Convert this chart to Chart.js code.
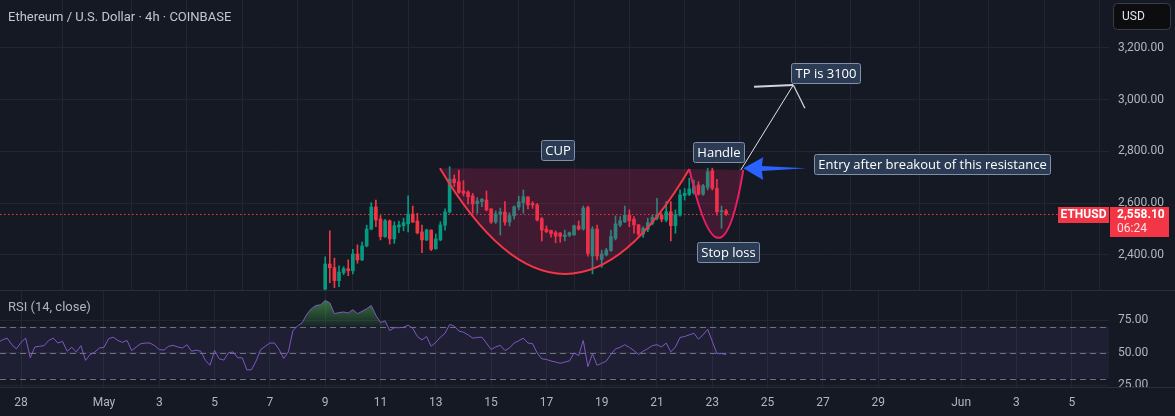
<!DOCTYPE html>
<html><head><meta charset="utf-8">
<script src="https://cdn.jsdelivr.net/npm/chart.js@4.4.1/dist/chart.umd.min.js"></script>
<style>
html,body{margin:0;padding:0;background:#151924;width:1175px;height:416px;overflow:hidden;}
#wrap{position:relative;width:1175px;height:416px;}
canvas{position:absolute;left:0;}
#c1{top:0;} #c2{top:290px;}
</style></head><body>
<div id="wrap"><canvas id="c1" width="1175" height="290"></canvas><canvas id="c2" width="1175" height="126"></canvas></div>
<script>
// ---------- DATA ----------
// time unit: days since May 1 00:00
const candleStartDay = 8;          // May 9 00:00
const stepDays = 4 / 24;           // 4h candles
const opens  = [2268,2365,2351,2301,2332,2347,2339,2404,2381,2435,2500,2585,2539,2471,2532,2462,2508,2513,2520,2558,2531,2489,2458,2496,2424,2458,2515,2566,2693,2682,2647,2643,2628,2598,2606,2612,2578,2527,2557,2566,2527,2551,2585,2602,2624,2599,2593,2540,2500,2495,2486,2485,2471,2476,2477,2512,2500,2583,2396,2500,2383,2400,2417,2464,2516,2528,2554,2538,2516,2481,2499,2522,2542,2554,2535,2567,2513,2554,2629,2634,2640,2670,2635,2661,2725,2657,2567,2570];
const highs  = [2393,2493,2388,2358,2355,2381,2422,2439,2450,2515,2602,2612,2552,2538,2535,2528,2531,2542,2628,2589,2561,2515,2500,2497,2481,2528,2578,2741,2709,2728,2687,2648,2638,2621,2619,2647,2578,2570,2581,2606,2563,2590,2627,2651,2625,2606,2599,2545,2512,2496,2493,2486,2496,2489,2515,2531,2589,2589,2509,2515,2419,2426,2496,2551,2548,2589,2574,2548,2518,2509,2542,2554,2619,2561,2606,2606,2574,2651,2657,2696,2689,2683,2673,2735,2735,2692,2589,2576];
const lows   = [2262,2293,2274,2278,2324,2320,2327,2368,2378,2431,2497,2509,2458,2468,2442,2445,2486,2493,2489,2525,2481,2409,2455,2417,2422,2455,2496,2561,2664,2638,2628,2596,2561,2561,2586,2570,2522,2522,2477,2515,2512,2538,2574,2561,2578,2580,2531,2454,2486,2469,2447,2449,2454,2471,2476,2496,2496,2395,2327,2381,2352,2396,2414,2458,2509,2525,2509,2484,2473,2468,2490,2516,2535,2528,2528,2454,2484,2550,2612,2629,2635,2631,2630,2651,2651,2554,2503,2553];
const closes = [2365,2351,2301,2334,2347,2339,2404,2381,2435,2500,2585,2535,2471,2532,2462,2513,2516,2525,2558,2527,2486,2458,2496,2422,2462,2516,2566,2693,2679,2642,2638,2625,2597,2608,2615,2574,2527,2558,2566,2527,2552,2586,2605,2625,2593,2593,2535,2496,2490,2482,2473,2472,2477,2486,2513,2500,2581,2406,2500,2396,2404,2419,2471,2520,2532,2554,2532,2516,2481,2503,2525,2545,2556,2538,2567,2513,2554,2632,2638,2655,2666,2634,2667,2721,2657,2567,2571,2558.1];
// RSI(14) on the same 4h grid; last value aligned with last candle
const rsiValues = [57.8,59.8,61.1,56.0,52.8,57.8,61.1,46.0,54.3,54.8,55.3,59.3,61.1,57.3,58.6,51.0,54.0,50.5,55.3,44.0,48.5,50.3,53.5,54.0,60.6,61.8,59.3,57.8,59.3,51.5,54.3,56.8,57.3,57.3,55.3,52.3,51.8,54.8,55.5,54.3,53.5,56.0,51.0,51.8,51.0,44.0,40.2,51.5,45.2,44.2,49.7,50.5,46.0,46.0,36.7,36.7,43.5,52.3,54.8,57.3,57.3,52.3,45.5,50.5,66.9,70.4,72.9,79.4,83.7,86.2,86.7,90.0,88.2,79.9,80.7,81.2,80.4,83.0,79.9,81.7,83.7,86.2,78.7,73.1,74.4,66.9,69.1,69.1,
  69.4,71.1,68.6,62.3,59.8,62.3,54.8,57.8,61.8,64.8,71.6,70.4,66.6,65.6,63.6,61.1,61.6,61.8,57.3,52.3,54.3,55.5,51.5,53.5,57.3,59.1,61.1,57.3,56.8,49.7,45.2,44.7,43.5,42.7,41.7,42.7,43.5,49.7,47.7,59.3,39.2,49.0,40.2,41.7,43.5,48.5,52.8,54.0,56.0,54.0,51.5,48.5,51.0,53.0,55.3,56.0,54.3,57.3,50.5,54.3,61.6,62.3,63.6,64.8,60.3,63.6,67.9,58.6,49.2,49.2,48.5];
const tickDays   = [-3,0,2,4,6,8,10,12,14,16,18,20,22,24,26,28,31,33,35];
const tickLabels = ['28','May','3','5','7','9','11','13','15','17','19','21','23','25','27','29','Jun','3','5'];
const priceTicks = [2400,2600,2800,3000,3200];
const rsiTicks   = [25,50,75];
const rsiLevels  = [70,50,30];
const lastPrice  = 2558.10;
const countdown  = '06:24';
const symbol     = 'ETHUSD';
const titleText  = 'Ethereum / U.S. Dollar · 4h · COINBASE';
const rsiTitle   = 'RSI (14, close)';

// ---------- annotations (data coordinates: [day, price]) ----------
const cupPts    = [[12.15,2735],[16.67,2327],[21.17,2732]];
const handlePts = [[21.17,2732],[22.22,2466],[23.12,2728]];
const entryArrow = [[23.12,2734.6],[23.84,2777],[23.79,2743.4],[25.39,2734.6],[23.79,2724.1],[23.84,2689.4]];
const tpLine  = [[23.03,2728],[24.93,3056]];
const tpHeadA = [23.51,3049.5];
const tpHeadB = [25.35,2966];
const notes = [
  {t:16.40,p:2807,text:'CUP'},
  {t:22.21,p:2799,text:'Handle'},
  {t:22.57,p:2410,text:'Stop loss'},
  {t:26.08,p:3103,text:'TP is 3100'},
  {t:29.93,p:2752,text:'Entry after breakout of this resistance'}
];

// ---------- view ranges ----------
const xMin = -3.761, xMax = 36.347;
const priceMin = 2264.8, priceMax = 3384.1;
const rsiMin = 23.5, rsiMax = 98.1;

const BG='#151924', GRID='#222632', TXT='#b2b5be', UP='#089981', DOWN='#f23645';
const FONT='Roboto', NOTEFONT='"Open Sans"';
const fmt = v => v.toLocaleString('en-US',{minimumFractionDigits:2,maximumFractionDigits:2});

const candleTimes  = opens.map((_,i)=> candleStartDay + i*stepDays);
const candleColors = opens.map((o,i)=> closes[i] >= o ? UP : DOWN);
const rsiStart = candleTimes[candleTimes.length-1] - (rsiValues.length-1)*stepDays;

function xAxis(show){ return {
  type:'linear', min:xMin, max:xMax, offset:false,
  afterBuildTicks: s=>{ s.ticks = tickDays.map(v=>({value:v})); },
  afterFit: s=>{ s.height = show?29:0; s.paddingLeft=0; s.paddingRight=0; },
  grid:{color:GRID, drawTicks:false, lineWidth:1},
  border:{display:false},
  ticks:{display:show, autoSkip:false, maxRotation:0, minRotation:0, color:TXT, padding:9,
         font:{family:FONT,size:12}, callback:(v,i)=>tickLabels[i]}
};}
function yAxis(min,max,ticks){ return {
  position:'right', min:min, max:max,
  afterBuildTicks: s=>{ s.ticks = ticks.map(v=>({value:v})); },
  afterFit: s=>{ s.width=66; s.paddingTop=0; s.paddingBottom=0; },
  grid:{color:GRID, drawTicks:false}, border:{display:false},
  ticks:{color:TXT, padding:9, font:{family:FONT,size:12}, callback:v=>fmt(v)}
};}

function P(chart,pt){ return [chart.scales.x.getPixelForValue(pt[0]), chart.scales.y.getPixelForValue(pt[1])]; }

function drawBowl(ctx, chart, pts, stroke){
  const [x0,y0]=P(chart,pts[0]), [xl,yl]=P(chart,pts[1]), [x2,y2]=P(chart,pts[2]);
  const cx = 2*xl-(x0+x2)/2, cy = 2*yl-(y0+y2)/2;
  ctx.beginPath(); ctx.moveTo(x0,y0); ctx.quadraticCurveTo(cx,cy,x2,y2); ctx.closePath();
  ctx.fillStyle='rgba(233,30,99,0.2)'; ctx.fill();
  ctx.beginPath(); ctx.moveTo(x0,y0); ctx.quadraticCurveTo(cx,cy,x2,y2);
  ctx.strokeStyle=stroke; ctx.lineWidth=2; ctx.stroke();
}
function rr(ctx,x,y,w,h,r){ ctx.beginPath(); ctx.moveTo(x+r,y); ctx.lineTo(x+w-r,y); ctx.quadraticCurveTo(x+w,y,x+w,y+r); ctx.lineTo(x+w,y+h-r); ctx.quadraticCurveTo(x+w,y+h,x+w-r,y+h); ctx.lineTo(x+r,y+h); ctx.quadraticCurveTo(x,y+h,x,y+h-r); ctx.lineTo(x,y+r); ctx.quadraticCurveTo(x,y,x+r,y); ctx.closePath(); }

const overlay1 = {
  id:'overlay1',
  beforeDatasetsDraw(chart){
    const ctx=chart.ctx, a=chart.chartArea, y=Math.round(chart.scales.y.getPixelForValue(lastPrice))+0.5;
    ctx.save(); ctx.strokeStyle=DOWN; ctx.lineWidth=1; ctx.setLineDash([1.5,2.5]);
    ctx.beginPath(); ctx.moveTo(a.left,y); ctx.lineTo(a.right,y); ctx.stroke(); ctx.restore();
  },
  afterDatasetsDraw(chart){
    const ctx=chart.ctx, a=chart.chartArea;
    ctx.save(); ctx.beginPath(); ctx.rect(a.left,a.top,a.width,a.height); ctx.clip();
    drawBowl(ctx,chart,cupPts,'#f23645');
    drawBowl(ctx,chart,handlePts,'#e91e63');
    // TP arrow
    const [sx,sy]=P(chart,tpLine[0]), [tx,ty]=P(chart,tpLine[1]);
    ctx.strokeStyle='#e0e3eb'; ctx.lineWidth=1;
    ctx.beginPath(); ctx.moveTo(sx,sy); ctx.lineTo(tx,ty); ctx.stroke();
    const [ax,ay]=P(chart,tpHeadA), [bx,by]=P(chart,tpHeadB);
    ctx.lineWidth=2; ctx.strokeStyle='#d1d4dc';
    ctx.beginPath(); ctx.moveTo(ax,ay); ctx.lineTo(tx,ty); ctx.stroke();
    ctx.lineWidth=1.3;
    ctx.beginPath(); ctx.moveTo(tx,ty); ctx.lineTo(bx,by); ctx.stroke();
    // entry arrow
    ctx.fillStyle='#2962ff'; ctx.beginPath();
    entryArrow.forEach((pt,i)=>{ const [x,y]=P(chart,pt); i?ctx.lineTo(x,y):ctx.moveTo(x,y); });
    ctx.closePath(); ctx.fill();
    // notes
    ctx.font='13px '+NOTEFONT; ctx.textAlign='center'; ctx.textBaseline='middle';
    notes.forEach(n=>{
      const [x,y]=P(chart,[n.t,n.p]); const w=Math.round(ctx.measureText(n.text).width+8), h=20;
      const bx0=Math.round(x-w/2)+0.5, by0=Math.round(y-h/2)+0.5;
      rr(ctx,bx0,by0,w,h,2); ctx.fillStyle='#2c3b54'; ctx.fill();
      ctx.strokeStyle='#8190a8'; ctx.lineWidth=1; ctx.stroke();
      ctx.fillStyle='#ffffff'; ctx.fillText(n.text, bx0+w/2, by0+h/2+0.5);
    });
    ctx.restore();
  },
  afterDraw(chart){
    const ctx=chart.ctx, a=chart.chartArea, y=chart.scales.y.getPixelForValue(lastPrice);
    ctx.save();
    // symbol tag
    ctx.fillStyle=DOWN; ctx.fillRect(a.right-51, Math.round(y)-7, 51, 16);
    ctx.fillStyle='#ffffff'; ctx.font='bold 12px '+FONT; ctx.textAlign='center'; ctx.textBaseline='middle';
    ctx.fillText(symbol, a.right-25.5, Math.round(y)+1);
    // price tag
    ctx.fillStyle=DOWN; ctx.fillRect(a.right+1, Math.round(y)-7, 59, 30);
    ctx.textAlign='left'; ctx.fillStyle='#ffffff'; ctx.font='bold 12px '+FONT;
    ctx.fillText(fmt(lastPrice), a.right+8, Math.round(y)+1);
    ctx.fillStyle='rgba(255,255,255,0.85)'; ctx.font='12px '+FONT;
    ctx.fillText(countdown, a.right+8, Math.round(y)+15);
    // title
    ctx.fillStyle='#c3c6ce'; ctx.font='13px '+FONT; ctx.textBaseline='alphabetic';
    ctx.fillText(titleText, 8, 21);
    // currency button
    rr(ctx,1113.5,3.5,57,26,4); ctx.fillStyle='#0d0d10'; ctx.fill(); ctx.strokeStyle='#3a3d47'; ctx.lineWidth=1; ctx.stroke();
    ctx.fillStyle='#e0e3eb'; ctx.font='12px '+FONT; ctx.textBaseline='middle'; ctx.fillText('USD',1122,17);
    ctx.restore();
  }
};

new Chart(document.getElementById('c1'),{
  type:'bar',
  data:{datasets:[
    {data: candleTimes.map((t,i)=>({x:t,y:[lows[i],highs[i]]})), backgroundColor:candleColors, barThickness:1, grouped:false, borderWidth:0},
    {data: candleTimes.map((t,i)=>({x:t,y:[Math.min(opens[i],closes[i]),Math.max(opens[i],closes[i])]})), backgroundColor:candleColors, barThickness:3, grouped:false, borderWidth:0, minBarLength:1}
  ]},
  options:{responsive:false, animation:false, events:[], layout:{padding:0},
    plugins:{legend:{display:false}, tooltip:{enabled:false}},
    scales:{x:xAxis(false), y:yAxis(priceMin,priceMax,priceTicks)}},
  plugins:[overlay1]
});

const overlay2 = {
  id:'overlay2',
  beforeDatasetsDraw(chart){
    const ctx=chart.ctx, a=chart.chartArea, ys=chart.scales.y;
    const yTop=ys.getPixelForValue(rsiLevels[0]), yBot=ys.getPixelForValue(rsiLevels[2]);
    ctx.save();
    ctx.fillStyle='rgba(126,87,194,0.1)'; ctx.fillRect(a.left,yTop,a.width,yBot-yTop);
    const pts=chart.getDatasetMeta(0).data;
    ctx.save(); ctx.beginPath(); ctx.rect(a.left,a.top,a.width,yTop-a.top); ctx.clip();
    const g=ctx.createLinearGradient(0,ys.getPixelForValue(90),0,yTop);
    g.addColorStop(0,'rgba(76,175,80,0.6)'); g.addColorStop(1,'rgba(76,175,80,0.08)');
    ctx.beginPath(); ctx.moveTo(pts[0].x,yTop); pts.forEach(p=>ctx.lineTo(p.x,p.y)); ctx.lineTo(pts[pts.length-1].x,yTop); ctx.closePath();
    ctx.fillStyle=g; ctx.fill(); ctx.restore();
    ctx.strokeStyle='rgba(120,123,134,0.9)'; ctx.lineWidth=1; ctx.setLineDash([6,4]);
    rsiLevels.forEach(l=>{ const y=Math.round(ys.getPixelForValue(l))+0.5; ctx.beginPath(); ctx.moveTo(a.left,y); ctx.lineTo(a.right,y); ctx.stroke(); });
    ctx.restore();
  },
  afterDraw(chart){
    const ctx=chart.ctx, a=chart.chartArea;
    ctx.save();
    ctx.fillStyle=BG; ctx.fillRect(a.right, a.bottom, chart.width-a.right, chart.height-a.bottom);
    ctx.strokeStyle='#2a2e39'; ctx.lineWidth=1;
    ctx.beginPath(); ctx.moveTo(0,0.5); ctx.lineTo(chart.width,0.5); ctx.stroke();
    ctx.beginPath(); ctx.moveTo(0,a.bottom+0.5); ctx.lineTo(chart.width,a.bottom+0.5); ctx.stroke();
    ctx.fillStyle=TXT; ctx.font='13px '+FONT; ctx.textBaseline='alphabetic'; ctx.textAlign='left';
    ctx.fillText(rsiTitle, 8, 21);
    ctx.restore();
  }
};

new Chart(document.getElementById('c2'),{
  type:'line',
  data:{datasets:[{data: rsiValues.map((v,i)=>({x:rsiStart+i*stepDays,y:v})), borderColor:'#7e57c2', borderWidth:1, pointRadius:0, tension:0, fill:false}]},
  options:{responsive:false, animation:false, events:[], layout:{padding:0},
    plugins:{legend:{display:false}, tooltip:{enabled:false}},
    scales:{x:xAxis(true), y:yAxis(rsiMin,rsiMax,rsiTicks)}},
  plugins:[overlay2]
});
</script>
</body></html>
